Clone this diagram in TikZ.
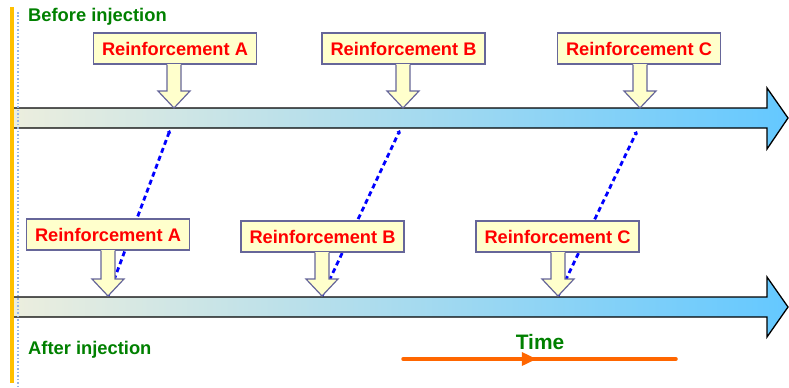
\documentclass[tikz,border=0pt]{standalone}
\usepackage{fontspec}
\setmainfont{Liberation Sans}
\usetikzlibrary{calc,arrows.meta,decorations.markings}

\definecolor{labelgreen}{RGB}{0,128,0}
\definecolor{callfill}{RGB}{255,255,204}
\definecolor{callline}{RGB}{102,102,153}
\definecolor{barleft}{RGB}{236,238,222}
\definecolor{barmid}{RGB}{180,224,236}
\definecolor{barright}{RGB}{100,200,255}
\definecolor{timeorange}{RGB}{255,102,0}
\definecolor{edgegold}{RGB}{255,192,0}
\definecolor{edgeblue}{RGB}{150,180,230}

\tikzset{
  callbox/.style={draw=callline, fill=callfill, line width=1.2bp,
    minimum height=31bp, minimum width=163bp, inner sep=0pt, text=red,
    font=\bfseries\fontsize{18.3}{18.3}\selectfont},
  callarrow/.style={draw=callline, fill=callfill, line width=1.2bp, line join=miter},
  timebar/.style={draw=black, line width=1.3bp, left color=barleft,
    middle color=barmid, right color=barright},
  link/.style={blue, line width=2.8bp, dash pattern=on 5bp off 3.5bp,
    -{Triangle[length=3bp,width=4.5bp]}},
  phase/.style={text=labelgreen, font=\bfseries\fontsize{18.4}{18.4}\selectfont,
    anchor=west, inner sep=0pt}
}

\begin{document}
\begin{tikzpicture}[x=1bp, y=-1bp]
\useasboundingbox (0,0) rectangle (789,387);

% where the callouts point
\coordinate (ta-tip) at (174,108);
\coordinate (tb-tip) at (403,108);
\coordinate (tc-tip) at (640,108);
\coordinate (ba-tip) at (108,296);
\coordinate (bb-tip) at (322,296);
\coordinate (bc-tip) at (558,296);

% dotted links, behind everything
\draw[link] (ba-tip) -- ($(ta-tip)+(-4,22)$);
\draw[link] (bb-tip) -- ($(tb-tip)+(-3,22)$);
\draw[link] (bc-tip) -- ($(tc-tip)+(-3,23)$);

% the two time bars
\draw[timebar] (13,108) -- (767,108) -- (767,88) -- (788,118) -- (767,149)
  -- (767,128) -- (13,128) -- cycle;
\draw[timebar] (13,297) -- (767,297) -- (767,277) -- (788,307) -- (767,337)
  -- (767,317) -- (13,317) -- cycle;

% left edge
\draw[edgeblue, line width=1.5bp, dotted] (18,12) -- (18,387);
\draw[edgegold, line width=3.5bp] (12,7) -- (12,383);

\node[phase] (before) at (28,17) {Before injection};
\node[phase] (after) at (28,350) {After injection};

% callouts
\node[callbox] (ta) at (175,48.5) {Reinforcement A};
\node[callbox] (tb) at (403.5,48.5) {Reinforcement B};
\node[callbox] (tc) at (639,48.5) {Reinforcement C};
\node[callbox] (ba) at (108,234.5) {Reinforcement A};
\node[callbox] (bb) at (322.5,236.5) {Reinforcement B};
\node[callbox] (bc) at (557.5,236.5) {Reinforcement C};

\foreach \b in {ta,tb,tc,ba,bb,bc} {
  \fill[callfill] ($(\b-tip |- \b.south)+(-7,-1)$) -- ($(\b-tip)+(-7,-17)$)
    -- ($(\b-tip)+(7,-17)$) -- ($(\b-tip |- \b.south)+(7,-1)$) -- cycle;
  \filldraw[callarrow] ($(\b-tip |- \b.south)+(-7,0)$) -- ($(\b-tip)+(-7,-17)$)
    -- ($(\b-tip)+(-16,-17)$) -- (\b-tip) -- ($(\b-tip)+(16,-17)$)
    -- ($(\b-tip)+(7,-17)$) -- ($(\b-tip |- \b.south)+(7,0)$);
}

% time direction
\coordinate (t0) at (403,359);
\coordinate (t1) at (676,359);
\draw[timeorange, line width=3.5bp, line cap=round,
  postaction={decorate, decoration={markings,
    mark=at position 0.49 with {\arrow{Triangle[length=15bp,width=13bp]}}}}] (t0) -- (t1);
\node[text=labelgreen, font=\bfseries\fontsize{21}{21}\selectfont] (time) at (540,342) {Time};
\end{tikzpicture}
\end{document}
